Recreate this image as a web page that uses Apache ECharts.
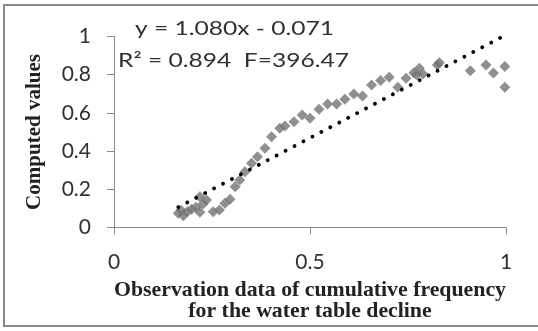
<!DOCTYPE html>
<html>
<head>
<meta charset="utf-8">
<script src="https://cdn.jsdelivr.net/npm/echarts@6/dist/echarts.min.js"></script>
<style>
  html, body { margin: 0; padding: 0; background: #fff; }
  #chart { width: 538px; height: 331px; }
</style>
</head>
<body>
<div id="chart"></div>
<script>
// Observed cumulative frequency of water table decline (x) vs computed values (y)
const xObs = [0.164, 0.171, 0.177, 0.187, 0.198, 0.209, 0.219, 0.219, 0.227, 0.236,
  0.253, 0.269, 0.283, 0.296, 0.309, 0.321, 0.334, 0.351, 0.366, 0.385,
  0.402, 0.423, 0.436, 0.459, 0.480, 0.500, 0.523, 0.545, 0.568, 0.589,
  0.612, 0.634, 0.657, 0.680, 0.702, 0.724, 0.745, 0.765, 0.772, 0.779,
  0.788, 0.825, 0.830, 0.909, 0.949, 0.968, 0.997, 0.997];
const yComputed = [0.074, 0.090, 0.062, 0.083, 0.095, 0.106, 0.080, 0.161, 0.123, 0.144,
  0.083, 0.092, 0.127, 0.148, 0.214, 0.249, 0.292, 0.336, 0.371, 0.415,
  0.475, 0.519, 0.531, 0.554, 0.589, 0.572, 0.619, 0.647, 0.647, 0.671,
  0.699, 0.688, 0.746, 0.769, 0.786, 0.734, 0.781, 0.810, 0.800, 0.834,
  0.804, 0.851, 0.863, 0.821, 0.851, 0.809, 0.843, 0.734];

// Linear fit reported on the chart
const slope = 1.080;
const intercept = -0.071;
const rSquared = 0.894;
const fStat = 396.47;

const xTicks = [0, 0.5, 1];
const yTicks = [0, 0.2, 0.4, 0.6, 0.8, 1];

const points = xObs.map((x, i) => [x, yComputed[i]]);
const xMin = Math.min(...xObs);
const xMax = Math.max(...xObs);
const fitLine = [xMin, xMax].map(x => [x, slope * x + intercept]);

const eqText = 'y = ' + slope.toFixed(3) + 'x - ' + Math.abs(intercept).toFixed(3);
const statText = 'R\u00B2 = ' + rSquared.toFixed(3) + '  F=' + fStat.toFixed(2);

const axisGray = '#8a8a8a';
const textColor = '#303030';

const chart = echarts.init(document.getElementById('chart'), null, { renderer: 'canvas' });
chart.setOption({
  animation: false,
  backgroundColor: '#fff',
  grid: { left: 114, right: 32, top: 36.5, bottom: 103.5 },
  xAxis: {
    type: 'value',
    min: xTicks[0], max: xTicks[xTicks.length - 1], interval: 0.5,
    name: 'Observation data of cumulative frequency\nfor the water table decline',
    nameLocation: 'middle',
    nameGap: 52,
    nameTextStyle: {
      fontFamily: 'Liberation Serif', fontWeight: 'bold', fontSize: 21.8,
      color: '#222', lineHeight: 21
    },
    axisLine: { show: true, lineStyle: { color: axisGray, width: 1 } },
    axisTick: { show: true, inside: false, length: 7, lineStyle: { color: axisGray } },
    axisLabel: { fontFamily: 'Lato', fontSize: 21, color: textColor, margin: 24,
      formatter: v => String(v) },
    splitLine: { show: false }
  },
  yAxis: {
    type: 'value',
    min: yTicks[0], max: yTicks[yTicks.length - 1], interval: 0.2,
    name: 'Computed values',
    nameLocation: 'middle',
    nameGap: 69,
    nameTextStyle: {
      fontFamily: 'Liberation Serif', fontWeight: 'bold', fontSize: 21, color: '#222'
    },
    axisLine: { show: true, lineStyle: { color: axisGray, width: 1 } },
    axisTick: { show: true, inside: false, length: 7, lineStyle: { color: axisGray } },
    axisLabel: { fontFamily: 'Lato', fontSize: 21, color: textColor, margin: 23,
      formatter: v => String(Math.round(v * 10) / 10) },
    splitLine: { show: false }
  },
  series: [
    {
      type: 'scatter',
      data: points,
      symbol: 'diamond',
      symbolSize: [11, 11],
      itemStyle: { color: '#747474' },
      z: 2
    },
    {
      type: 'line',
      data: fitLine,
      symbol: 'none',
      lineStyle: { color: '#000', width: 3.8, type: [0.1, 10], cap: 'round' },
      z: 3
    }
  ],
  graphic: [
    {
      type: 'rect',
      shape: { x: 4, y: 5, width: 540, height: 321 },
      style: { fill: 'none', stroke: axisGray, lineWidth: 2 },
      silent: true
    },
    {
      type: 'text',
      x: 135, y: 29, scaleX: 1.26,
      style: { text: eqText, fontFamily: 'Lato', fontSize: 19.5, fill: textColor,
        align: 'left', verticalAlign: 'middle' }
    },
    {
      type: 'text',
      x: 118, y: 61, scaleX: 1.26,
      style: { text: statText, fontFamily: 'Lato', fontSize: 19.5, fill: textColor,
        align: 'left', verticalAlign: 'middle' }
    }
  ]
});
</script>
</body>
</html>
